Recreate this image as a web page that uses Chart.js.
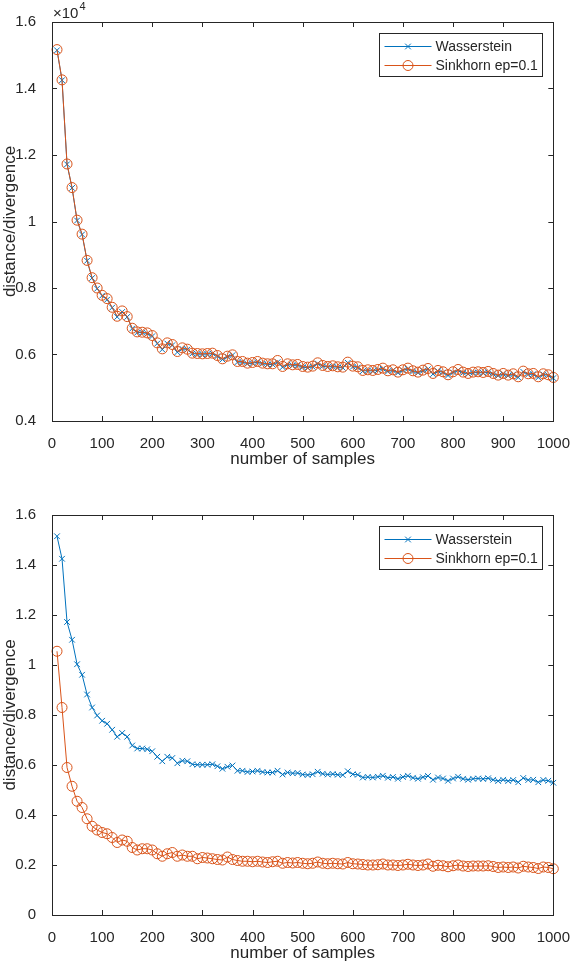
<!DOCTYPE html>
<html>
<head>
<meta charset="utf-8">
<script src="https://cdn.jsdelivr.net/npm/chart.js@4.4.1/dist/chart.umd.min.js"></script>
<style>
  body { margin: 0; background: #fff; }
  .panel { position: relative; width: 576px; height: 482px; }
</style>
</head>
<body>
<div class="panel"><canvas id="topChart"></canvas></div>
<div class="panel"><canvas id="bottomChart"></canvas></div>
<script>
// number of samples (x)
const samples = [10, 20, 30, 40, 50, 60, 70, 80, 90, 100,
  110, 120, 130, 140, 150, 160, 170, 180, 190, 200,
  210, 220, 230, 240, 250, 260, 270, 280, 290, 300,
  310, 320, 330, 340, 350, 360, 370, 380, 390, 400,
  410, 420, 430, 440, 450, 460, 470, 480, 490, 500,
  510, 520, 530, 540, 550, 560, 570, 580, 590, 600,
  610, 620, 630, 640, 650, 660, 670, 680, 690, 700,
  710, 720, 730, 740, 750, 760, 770, 780, 790, 800,
  810, 820, 830, 840, 850, 860, 870, 880, 890, 900,
  910, 920, 930, 940, 950, 960, 970, 980, 990, 1000];

// Wasserstein distance (same in both panels)
const wasserstein = [1.515, 1.425, 1.172, 1.101, 1.003, 0.961, 0.882, 0.830, 0.798, 0.777,
  0.765, 0.741, 0.713, 0.728, 0.713, 0.678, 0.666, 0.666, 0.663, 0.655,
  0.633, 0.615, 0.633, 0.628, 0.607, 0.617, 0.615, 0.603, 0.601, 0.601,
  0.601, 0.603, 0.595, 0.585, 0.593, 0.598, 0.577, 0.577, 0.572, 0.574,
  0.577, 0.572, 0.570, 0.570, 0.577, 0.562, 0.570, 0.567, 0.568, 0.562,
  0.560, 0.563, 0.573, 0.565, 0.562, 0.564, 0.561, 0.560, 0.575, 0.563,
  0.561, 0.550, 0.552, 0.550, 0.553, 0.557, 0.549, 0.552, 0.545, 0.552,
  0.557, 0.549, 0.545, 0.551, 0.556, 0.541, 0.550, 0.546, 0.537, 0.546,
  0.553, 0.545, 0.541, 0.545, 0.546, 0.544, 0.547, 0.541, 0.536, 0.541,
  0.536, 0.540, 0.531, 0.548, 0.540, 0.541, 0.531, 0.540, 0.537, 0.529];

// Sinkhorn ep=0.1, top panel (x10^4)
const sinkhornTop = [1.517, 1.426, 1.173, 1.102, 1.004, 0.962, 0.883, 0.831, 0.800, 0.778,
  0.768, 0.742, 0.715, 0.731, 0.714, 0.679, 0.668, 0.667, 0.665, 0.657,
  0.635, 0.617, 0.635, 0.630, 0.609, 0.620, 0.616, 0.604, 0.603, 0.602,
  0.603, 0.604, 0.597, 0.587, 0.595, 0.599, 0.579, 0.579, 0.574, 0.576,
  0.579, 0.574, 0.572, 0.572, 0.582, 0.564, 0.572, 0.569, 0.570, 0.564,
  0.562, 0.565, 0.575, 0.567, 0.564, 0.566, 0.563, 0.562, 0.577, 0.565,
  0.563, 0.552, 0.554, 0.552, 0.555, 0.559, 0.551, 0.554, 0.547, 0.554,
  0.559, 0.551, 0.547, 0.553, 0.558, 0.543, 0.552, 0.548, 0.539, 0.548,
  0.555, 0.547, 0.543, 0.547, 0.548, 0.546, 0.549, 0.543, 0.538, 0.543,
  0.538, 0.542, 0.533, 0.550, 0.542, 0.543, 0.533, 0.542, 0.539, 0.531];

// Sinkhorn ep=0.1, bottom panel
const sinkhornBottom = [1.055, 0.830, 0.590, 0.515, 0.455, 0.430, 0.385, 0.355, 0.340, 0.330,
  0.325, 0.310, 0.290, 0.300, 0.295, 0.270, 0.260, 0.265, 0.265, 0.260,
  0.245, 0.235, 0.245, 0.250, 0.235, 0.240, 0.235, 0.235, 0.225, 0.230,
  0.228, 0.225, 0.222, 0.220, 0.232, 0.222, 0.218, 0.215, 0.215, 0.213,
  0.215, 0.212, 0.210, 0.213, 0.215, 0.207, 0.210, 0.208, 0.210, 0.207,
  0.205, 0.207, 0.212, 0.207, 0.205, 0.207, 0.205, 0.204, 0.210, 0.205,
  0.204, 0.202, 0.200, 0.200, 0.201, 0.204, 0.200, 0.200, 0.198, 0.200,
  0.203, 0.200, 0.198, 0.200, 0.204, 0.195, 0.199, 0.197, 0.193, 0.197,
  0.200, 0.196, 0.194, 0.196, 0.196, 0.196, 0.197, 0.194, 0.190, 0.192,
  0.190, 0.192, 0.188, 0.195, 0.192, 0.190, 0.186, 0.192, 0.190, 0.185];

const xTicks = [0, 100, 200, 300, 400, 500, 600, 700, 800, 900, 1000];
const seriesNames = ['Wasserstein', 'Sinkhorn ep=0.1'];

const BLUE = '#0072BD';
const ORANGE = '#D95319';
const INK = '#262626';
const FONT = '"Liberation Sans", Arial, Helvetica, sans-serif';

// MATLAB style box with inward ticks, legend and exponent label
const matlabAxes = {
  id: 'matlabAxes',
  afterDraw(chart, args, opts) {
    const { ctx, chartArea: a } = chart;
    const xs = chart.scales.x, ys = chart.scales.y;
    ctx.save();
    ctx.strokeStyle = INK;
    ctx.lineWidth = 1;
    ctx.beginPath();
    xs.ticks.forEach(t => {
      const px = Math.round(xs.getPixelForValue(t.value)) + 0.5;
      ctx.moveTo(px, a.bottom); ctx.lineTo(px, a.bottom - 5);
      ctx.moveTo(px, a.top); ctx.lineTo(px, a.top + 5);
    });
    ys.ticks.forEach(t => {
      const py = Math.round(ys.getPixelForValue(t.value)) + 0.5;
      ctx.moveTo(a.left, py); ctx.lineTo(a.left + 5, py);
      ctx.moveTo(a.right, py); ctx.lineTo(a.right - 5, py);
    });
    ctx.stroke();
    ctx.strokeRect(Math.round(a.left) + 0.5, Math.round(a.top) + 0.5,
      Math.round(a.right - a.left), Math.round(a.bottom - a.top));

    // legend
    const bw = 163, bh = 43;
    const bx = Math.round(a.right - 11 - bw) + 0.5, by = Math.round(a.top + 11) + 0.5;
    ctx.fillStyle = '#fff';
    ctx.fillRect(bx, by, bw, bh);
    ctx.strokeStyle = INK;
    ctx.strokeRect(bx, by, bw, bh);
    ctx.font = '14px ' + FONT;
    ctx.textBaseline = 'middle';
    chart.data.datasets.forEach((ds, i) => {
      const cy = by + 13 + i * 19;
      ctx.strokeStyle = ds.borderColor;
      ctx.lineWidth = 1;
      ctx.beginPath();
      ctx.moveTo(bx + 5, cy); ctx.lineTo(bx + 52, cy);
      ctx.stroke();
      ctx.fillStyle = 'rgba(0,0,0,0)';
      ctx.strokeStyle = ds.borderColor;
      Chart.helpers.drawPoint(ctx, {
        pointStyle: ds.pointStyle, radius: ds.pointRadius,
        borderWidth: 1, rotation: 0
      }, bx + 28.5, cy);
      ctx.fillStyle = INK;
      ctx.fillText(ds.label, bx + 56, cy + 1);
    });

    if (opts.exponent) {
      ctx.fillStyle = INK;
      ctx.textBaseline = 'alphabetic';
      ctx.font = '15px ' + FONT;
      ctx.fillText('\u00d710', a.left + 1, a.top - 4);
      const w = ctx.measureText('\u00d710').width;
      ctx.font = '11px ' + FONT;
      ctx.fillText('4', a.left + 2 + w, a.top - 12);
    }
    ctx.restore();
  }
};

function makeChart(id, sinkhorn, yMin, padding, exponent) {
  return new Chart(document.getElementById(id), {
    type: 'line',
    data: {
      datasets: [{
        label: seriesNames[0],
        data: samples.map((x, i) => ({ x, y: wasserstein[i] })),
        borderColor: BLUE,
        backgroundColor: 'rgba(0,0,0,0)',
        borderWidth: 1,
        pointStyle: 'crossRot',
        pointRadius: 4,
        pointBorderWidth: 1,
        pointBorderColor: BLUE,
        tension: 0,
        clip: false,
        order: 2
      }, {
        label: seriesNames[1],
        data: samples.map((x, i) => ({ x, y: sinkhorn[i] })),
        borderColor: ORANGE,
        backgroundColor: 'rgba(0,0,0,0)',
        borderWidth: 1,
        pointStyle: 'circle',
        pointRadius: 5,
        pointBorderWidth: 1,
        pointBorderColor: ORANGE,
        pointBackgroundColor: 'rgba(0,0,0,0)',
        tension: 0,
        clip: false,
        order: 1
      }]
    },
    options: {
      responsive: true,
      maintainAspectRatio: false,
      animation: false,
      layout: { padding },
      plugins: {
        legend: { display: false },
        tooltip: { enabled: false },
        matlabAxes: { exponent }
      },
      scales: {
        x: {
          type: 'linear',
          min: 0,
          max: 1000,
          afterBuildTicks: s => { s.ticks = xTicks.map(v => ({ value: v })); },
          afterFit: s => { s.height = 49; },
          grid: { display: false },
          border: { display: false },
          ticks: {
            color: INK, font: { family: FONT, size: 15 }, padding: 6,
            maxRotation: 0, autoSkip: false,
            callback: v => String(v)
          },
          title: {
            display: true, text: 'number of samples', color: INK,
            font: { family: FONT, size: 17 }, padding: 0
          }
        },
        y: {
          min: yMin,
          max: 1.6,
          afterFit: s => { s.width = 52; },
          grid: { display: false },
          border: { display: false },
          ticks: {
            stepSize: 0.2, color: INK, font: { family: FONT, size: 15 }, padding: 8,
            callback: v => String(+v.toFixed(1))
          },
          title: {
            display: true, text: 'distance/divergence', color: INK,
            font: { family: FONT, size: 17 }, padding: 0
          }
        }
      }
    },
    plugins: [matlabAxes]
  });
}

makeChart('topChart', sinkhornTop, 0.4, { top: 22, right: 18, bottom: 12, left: 0 }, true);
makeChart('bottomChart', sinkhornBottom, 0, { top: 33, right: 18, bottom: 0, left: 0 }, false);
</script>
</body>
</html>
